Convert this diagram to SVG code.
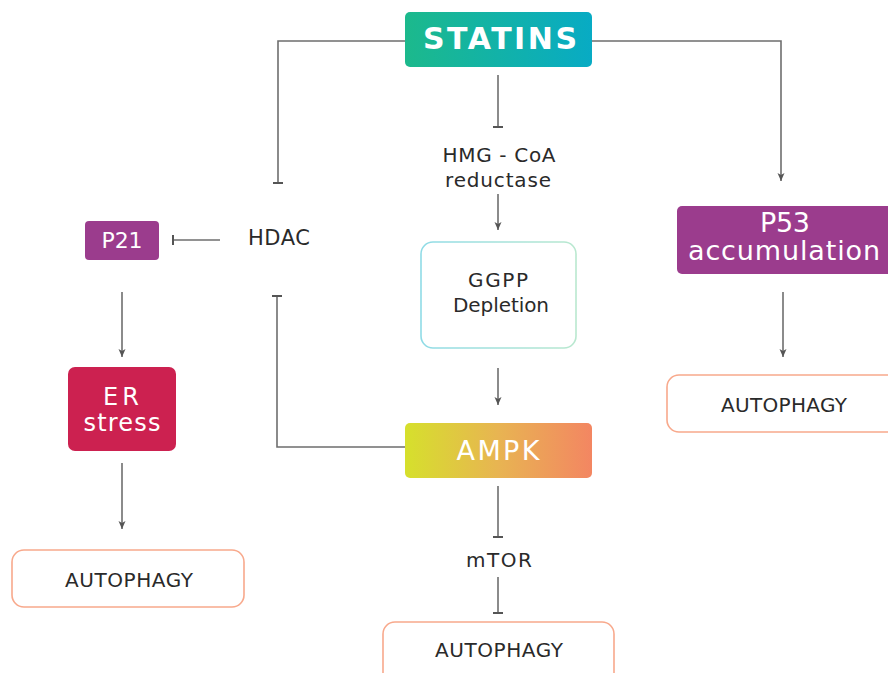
<svg xmlns="http://www.w3.org/2000/svg" width="888" height="673" viewBox="0 0 888 673">
<defs>
<linearGradient id="gStat" x1="0" y1="0" x2="1" y2="0"><stop offset="0" stop-color="#1cb98c"/><stop offset="1" stop-color="#08abc4"/></linearGradient>
<linearGradient id="gAmpk" x1="0" y1="0" x2="1" y2="0"><stop offset="0" stop-color="#d6e02c"/><stop offset="0.5" stop-color="#e8b452"/><stop offset="1" stop-color="#f38662"/></linearGradient>
<linearGradient id="gGgpp" x1="0" y1="0" x2="1" y2="0"><stop offset="0" stop-color="#8fdbe6"/><stop offset="1" stop-color="#b9e8cf"/></linearGradient>
<marker id="bar" markerUnits="userSpaceOnUse" markerWidth="12" markerHeight="12" refX="6" refY="6" orient="auto" viewBox="0 0 12 12">
<line x1="6" y1="1" x2="6" y2="11" stroke="#555" stroke-width="2"/>
</marker>
<marker id="arr" markerUnits="userSpaceOnUse" markerWidth="10" markerHeight="10" refX="9" refY="5" orient="auto" viewBox="0 0 10 10">
<path d="M1,1.5 L9,5 L1,8.5 L3,5 Z" fill="#555"/>
</marker>
</defs>
<style>
.c{fill:none;stroke:#6e6e6e;stroke-width:1.6}
.t{font-family:"DejaVu Sans","Open Sans",sans-serif;fill:#2a2a2a;text-anchor:middle}
.w{font-family:"DejaVu Sans","Open Sans",sans-serif;fill:#ffffff;text-anchor:middle}
.auto{fill:#ffffff;stroke:#f8a98c;stroke-width:1.6}
</style>
<rect width="888" height="673" fill="#ffffff"/>
<g id="connectors">
<path class="c" d="M405,41 H278 V183" marker-end="url(#bar)"/>
<path class="c" d="M592,41 H781 V181" marker-end="url(#arr)"/>
<path class="c" d="M498,75 V127" marker-end="url(#bar)"/>
<path class="c" d="M498,194 V230" marker-end="url(#arr)"/>
<path class="c" d="M498,368 V405" marker-end="url(#arr)"/>
<path class="c" d="M405,447 H277 V296" marker-end="url(#bar)"/>
<path class="c" d="M498,486 V537" marker-end="url(#bar)"/>
<path class="c" d="M498,577 V613" marker-end="url(#bar)"/>
<path class="c" d="M220,240 H173" marker-end="url(#bar)"/>
<path class="c" d="M122,292 V357" marker-end="url(#arr)"/>
<path class="c" d="M122,463 V529" marker-end="url(#arr)"/>
<path class="c" d="M783,292 V357" marker-end="url(#arr)"/>
</g>
<g id="statins">
<rect x="405" y="12" width="187" height="55" rx="5" fill="url(#gStat)"/>
<text class="w" x="500" y="49" font-size="30" font-weight="bold" textLength="154" lengthAdjust="spacing">STATINS</text>
</g>
<g id="hmg">
<text class="t" x="499" y="162" font-size="20" textLength="113">HMG - CoA</text>
<text class="t" x="498" y="187" font-size="20" textLength="106">reductase</text>
</g>
<g id="ggpp">
<rect x="421" y="242" width="155" height="106" rx="12" fill="#ffffff" stroke="url(#gGgpp)" stroke-width="1.6"/>
<text class="t" x="498" y="287" font-size="20" textLength="60">GGPP</text>
<text class="t" x="501" y="312" font-size="20" textLength="96">Depletion</text>
</g>
<g id="ampk">
<rect x="405" y="423" width="187" height="55" rx="5" fill="url(#gAmpk)"/>
<text class="w" x="498" y="460" font-size="27" textLength="83">AMPK</text>
</g>
<g id="mtor">
<text class="t" x="499" y="567" font-size="20" textLength="66">mTOR</text>
</g>
<g id="autophagy-center">
<rect class="auto" x="383" y="622" width="231" height="66" rx="12"/>
<text class="t" x="499" y="657" font-size="20" textLength="128">AUTOPHAGY</text>
</g>
<g id="hdac">
<text class="t" x="279" y="245" font-size="21" textLength="62">HDAC</text>
</g>
<g id="p21">
<rect x="85" y="221" width="74" height="39" rx="4" fill="#9b3c8d"/>
<text class="w" x="122" y="248" font-size="22" textLength="41">P21</text>
</g>
<g id="erstress">
<rect x="68" y="367" width="108" height="84" rx="7" fill="#cc2150"/>
<text class="w" x="121" y="405" font-size="24" textLength="36">ER</text>
<text class="w" x="122" y="431" font-size="24" textLength="77">stress</text>
</g>
<g id="autophagy-left">
<rect class="auto" x="12" y="550" width="232" height="57" rx="12"/>
<text class="t" x="129" y="587" font-size="20" textLength="128">AUTOPHAGY</text>
</g>
<g id="p53">
<rect x="677" y="206" width="220" height="68" rx="5" fill="#9b3c8d"/>
<text class="w" x="785" y="232" font-size="27" textLength="50">P53</text>
<text class="w" x="784" y="260" font-size="27" textLength="192">accumulation</text>
</g>
<g id="autophagy-right">
<rect class="auto" x="667" y="375" width="240" height="57" rx="12"/>
<text class="t" x="784" y="412" font-size="20" textLength="126">AUTOPHAGY</text>
</g>
</svg>
